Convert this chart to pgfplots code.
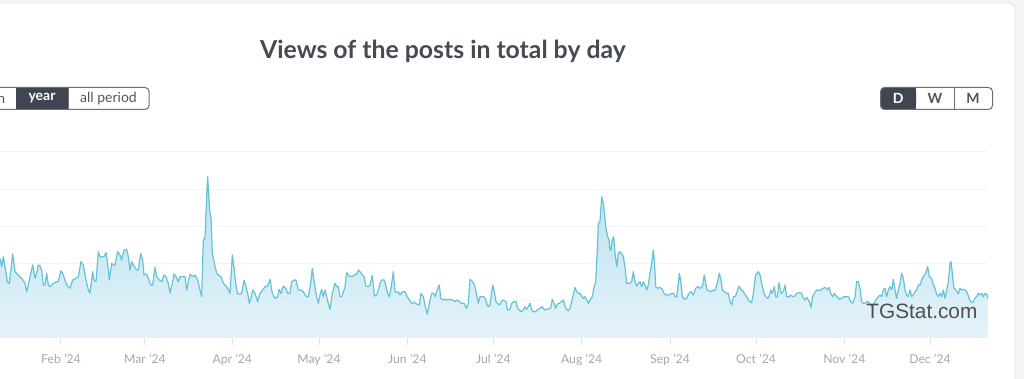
\documentclass[border=0pt]{standalone}
\usepackage{fontspec}
\setmainfont{Lato}
\newfontfamily\wmfont{Liberation Sans}
\usepackage{pgfplots}
\pgfplotsset{compat=1.18}
\usepackage{pgfplotstable}
\definecolor{linec}{HTML}{66C2D6}
\definecolor{filltop}{HTML}{B6E1EF}
\definecolor{fillbot}{HTML}{E5F3F9}
\definecolor{gridc}{HTML}{F3F3F3}
\definecolor{tickc}{HTML}{DDE3EC}
\definecolor{labc}{HTML}{A8A8A8}
\definecolor{titlec}{HTML}{454B55}
\definecolor{btndark}{HTML}{3F4651}
\definecolor{btnborder}{HTML}{6B6F76}
\definecolor{btntext}{HTML}{555555}
\definecolor{cardb}{HTML}{E2E4E9}
\definecolor{pageb}{HTML}{F3F4F7}
\definecolor{wmc}{HTML}{505050}

% pos: horizontal position (1/3 px), h: height above baseline (1/3 px); gridline step = 111.6
\pgfplotstableread{
pos h
0 239
5 214
10 244
15 214
22 169
28 164
35 224
38 252
45 199
55 189
65 179
75 164
80 139
88 174
98 219
105 179
110 194
115 219
120 216
125 204
130 159
135 159
140 194
145 159
150 154
160 164
170 169
175 169
183 202
190 189
200 159
210 149
218 174
228 179
235 184
243 229
250 219
258 174
265 144
270 134
278 199
282 174
288 169
295 259
300 244
305 244
312 244
318 256
322 229
328 174
335 224
340 219
345 219
353 259
360 249
365 234
372 264
380 266
385 244
390 204
395 229
400 219
410 204
415 204
422 254
428 234
432 189
440 192
445 179
452 159
458 159
465 212
470 184
478 174
485 169
492 189
498 184
505 164
510 136
515 154
522 192
528 184
535 169
540 184
548 184
555 184
560 144
565 169
570 192
575 186
580 184
585 189
593 174
600 144
605 124
610 294
615 299
620 424
623 484
627 414
630 374
633 364
637 254
643 224
650 194
655 189
663 184
670 164
680 154
690 134
697 249
703 204
707 164
713 132
720 132
725 134
732 174
738 154
743 134
748 104
753 119
758 144
765 134
773 109
780 134
788 144
795 154
803 156
810 176
817 134
825 119
833 124
837 146
843 134
850 156
857 149
863 134
870 134
875 169
883 174
888 174
895 144
903 144
910 139
915 129
920 124
925 124
932 164
937 209
943 164
950 124
955 104
960 129
965 146
970 124
975 144
980 124
985 104
990 86
997 134
1005 164
1010 154
1015 154
1020 124
1025 124
1035 152
1040 196
1047 186
1055 184
1063 189
1070 192
1075 204
1080 199
1087 189
1093 182
1097 156
1105 154
1110 159
1117 188
1123 126
1130 129
1135 144
1140 164
1145 174
1153 174
1157 159
1163 134
1168 124
1173 149
1180 199
1185 139
1190 136
1195 139
1200 129
1208 139
1215 139
1222 124
1228 114
1235 104
1242 106
1250 102
1258 99
1263 134
1270 124
1275 99
1282 71
1288 104
1295 134
1300 134
1305 124
1312 146
1318 159
1322 119
1328 114
1335 116
1342 114
1350 116
1358 114
1365 109
1370 114
1378 109
1385 104
1392 104
1400 89
1405 104
1410 176
1418 169
1425 154
1430 129
1435 104
1440 124
1450 124
1455 119
1460 104
1465 94
1470 99
1478 159
1482 144
1488 109
1492 104
1498 99
1505 109
1510 114
1518 109
1522 84
1530 86
1535 104
1542 109
1548 109
1553 89
1558 84
1563 79
1570 84
1575 94
1580 86
1585 94
1590 104
1595 84
1600 79
1607 79
1612 84
1620 89
1625 94
1630 89
1635 84
1640 86
1648 89
1652 89
1657 116
1662 104
1667 89
1672 102
1678 104
1685 109
1690 114
1697 89
1705 82
1710 89
1715 109
1720 129
1725 152
1730 139
1735 134
1740 134
1745 126
1750 119
1755 124
1760 114
1765 104
1770 114
1777 124
1783 159
1787 164
1792 264
1795 344
1800 349
1805 424
1810 404
1813 379
1817 334
1823 304
1827 294
1830 264
1833 264
1837 294
1841 304
1845 254
1850 214
1855 254
1860 259
1865 254
1870 244
1875 214
1880 164
1885 164
1890 164
1895 169
1900 199
1905 169
1910 156
1915 164
1920 169
1925 154
1930 169
1935 159
1940 144
1945 159
1950 194
1955 224
1960 264
1963 234
1967 154
1973 149
1980 152
1987 146
1993 132
2000 129
2007 129
2015 134
2020 134
2025 124
2030 124
2035 164
2038 194
2043 164
2047 124
2053 116
2060 119
2067 134
2073 139
2080 129
2087 149
2093 154
2100 149
2107 154
2113 189
2117 164
2121 144
2127 142
2133 139
2140 144
2145 142
2153 169
2158 194
2163 174
2167 144
2173 139
2180 134
2185 134
2190 109
2195 99
2200 124
2205 124
2210 134
2217 156
2223 144
2227 144
2233 134
2240 124
2245 114
2250 109
2255 106
2260 134
2267 189
2275 199
2280 189
2285 164
2292 134
2297 124
2303 119
2307 124
2312 144
2317 134
2323 154
2327 124
2332 124
2337 166
2343 134
2350 139
2355 159
2360 124
2368 124
2372 129
2378 124
2385 126
2390 134
2398 136
2405 134
2410 119
2415 114
2420 122
2428 109
2433 92
2438 124
2443 134
2450 144
2458 142
2465 146
2470 149
2475 152
2483 144
2488 152
2492 134
2498 124
2503 134
2510 124
2518 116
2525 119
2532 124
2540 124
2545 124
2552 109
2558 104
2565 124
2570 169
2575 169
2580 149
2585 109
2590 104
2595 104
2602 109
2608 106
2615 94
2622 104
2628 114
2635 124
2640 129
2645 124
2650 144
2655 149
2660 124
2665 144
2670 154
2675 144
2680 176
2685 144
2690 119
2695 144
2700 164
2705 194
2710 179
2715 144
2720 129
2725 124
2730 144
2735 124
2740 129
2745 139
2750 144
2755 159
2760 159
2765 174
2770 184
2777 194
2783 214
2788 184
2795 179
2800 159
2805 149
2810 132
2815 124
2820 134
2825 124
2830 144
2835 119
2840 144
2845 169
2850 224
2853 229
2858 184
2862 149
2868 144
2875 132
2880 149
2885 144
2890 146
2895 144
2900 139
2905 126
2910 112
2915 106
2920 109
2925 119
2930 124
2935 134
2940 129
2945 134
2950 124
2955 134
2960 132
2965 116
}\views

\begin{document}
\begin{tikzpicture}
\useasboundingbox (0pt,-20.5pt) rectangle (512pt,169pt);
\clip (0pt,-20.5pt) rectangle (512pt,169pt);
\begin{scope}[x=0.5pt,y=-0.5pt,shift={(0pt,169pt)}]
  \fill[pageb] (-5,-5) rectangle (1030,390);
  \draw[cardb, fill=white, rounded corners=3pt] (-40,3) rectangle (1015,430);
\end{scope}
\begin{axis}[
  at={(0pt,0pt)}, anchor=south west,
  scale only axis, width=494pt, height=93pt,
  xmin=0, xmax=2964, ymin=0, ymax=558,
  axis x line*=bottom, axis y line*=left,
  axis line style={draw=none},
  xtick={183,435,697,957,1222,1480,1745,2010,2268,2533,2790},
  xticklabels={Feb '24,Mar '24,Apr '24,May '24,Jun '24,Jul '24,Aug '24,Sep '24,Oct '24,Nov '24,Dec '24},
  ytick={111.6,223.2,334.8,446.4,558},
  yticklabels={},
  ymajorgrids, grid style={gridc, line width=0.5pt},
  ytick style={draw=none},
  xtick style={tickc, line width=0.5pt},
  tick align=outside, major tick length=3.5pt,
  xticklabel style={font=\fontsize{6.1}{7}\selectfont, text=labc, yshift=-1pt},
]
\addplot[draw=none, top color=filltop, bottom color=fillbot] table[x=pos,y=h]{\views} \closedcycle;
\addplot[linec, line width=0.6pt, no marks, line join=round] table[x=pos,y=h]{\views};
\end{axis}
\begin{scope}[x=0.5pt,y=-0.5pt,shift={(0pt,169pt)}]
  \node[text=titlec, font=\fontsize{12.4}{14}\selectfont\bfseries] at (443,51) {Views of the posts in total by day};
  % left button group
  \fill[btndark] (16,87.5) rectangle (68,109.5);
  \draw[btnborder, line width=0.5pt, rounded corners=2pt] (-60,87.5) rectangle (149,109.5);
  \draw[btnborder, line width=0.5pt] (68,87.5) -- (68,109.5);
  \node[anchor=east, text=btntext, font=\fontsize{7}{8}\selectfont, inner sep=0pt] at (5.5,98.5) {month};
  \node[text=white, font=\fontsize{7}{8}\selectfont\bfseries] at (42,98.5) {year};
  \node[text=btntext, font=\fontsize{7}{8}\selectfont] at (108.5,98.5) {all period};
  % right button group
  \fill[btndark, rounded corners=2pt] (880.5,87.5) rectangle (916,109.5);
  \fill[btndark] (905,87.5) rectangle (916,109.5);
  \draw[btnborder, line width=0.5pt, rounded corners=2pt] (880.5,87.5) rectangle (992.5,109.5);
  \draw[btnborder, line width=0.5pt] (954,87.5) -- (954,109.5);
  \node[text=white, font=\fontsize{7}{8}\selectfont\bfseries] at (898.3,98.5) {D};
  \node[text=btntext, font=\fontsize{7}{8}\selectfont\bfseries] at (935,98.5) {W};
  \node[text=btntext, font=\fontsize{7}{8}\selectfont\bfseries] at (973,98.5) {M};
  % watermark
  \node[anchor=base west, inner sep=0pt, text=wmc, font=\wmfont\fontsize{10.4}{12}\selectfont] at (866,318.5) {TGStat.com};
\end{scope}
\end{tikzpicture}
\end{document}
